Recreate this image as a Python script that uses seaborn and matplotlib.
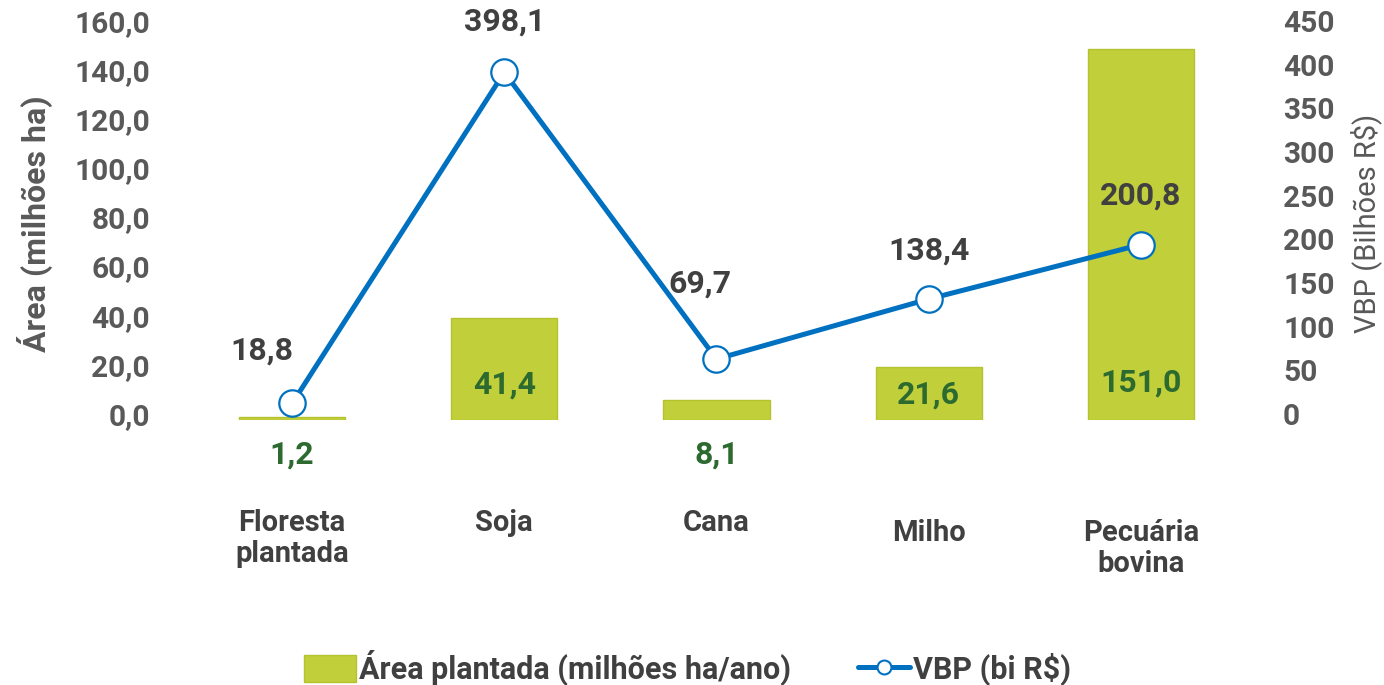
import numpy as np
import pandas as pd
import seaborn as sns
import matplotlib.pyplot as plt
import matplotlib.transforms as mtrans
from matplotlib.patches import Patch
from matplotlib.lines import Line2D

sns.set_style('white')
plt.rcParams['font.family'] = ['Roboto', 'DejaVu Sans']

# data
categories = ['Floresta\nplantada', 'Soja', 'Cana', 'Milho', 'Pecuária\nbovina']
area = [1.2, 41.4, 8.1, 21.6, 151.0]
vbp = [18.8, 398.1, 69.7, 138.4, 200.8]
left_ticks = [0, 20, 40, 60, 80, 100, 120, 140, 160]
right_ticks = [0, 50, 100, 150, 200, 250, 300, 350, 400, 450]

bar_color = '#c0cf3a'
line_color = '#0070c0'
grey = '#595959'
dark = '#404040'
green_txt = '#2d6a2f'

df = pd.DataFrame({'cat': categories, 'area': area, 'vbp': vbp})

fig = plt.figure(figsize=(13.84, 6.85), dpi=100)
ax = fig.add_axes([0.1344, 0.387, 0.7666, 0.5736])

sns.barplot(data=df, x='cat', y='area', color=bar_color, width=0.5,
            saturation=1, edgecolor='#b3c22e', linewidth=1, ax=ax)
ax.set_ylim(0, 160)
ax.set_xlim(-0.5, 4.5)
ax.set_yticks(left_ticks)
ax.set_yticklabels([f'{v:.1f}'.replace('.', ',') for v in left_ticks])
ax.set_xticks([])
ax.set_xlabel('')
ax.set_ylabel('Área (milhões ha)', fontsize=23, fontweight='bold', color=grey)
ax.yaxis.set_label_coords(-0.125, 0.5)
ax.tick_params(axis='y', length=0, pad=26, labelsize=21.5, labelcolor=grey)

ax2 = ax.twinx()
sns.lineplot(x=np.arange(len(vbp)), y=vbp, ax=ax2, color=line_color,
             linewidth=3.6, marker='o', markersize=19, markerfacecolor='white',
             markeredgecolor=line_color, markeredgewidth=1.6, zorder=5)
ax2.set_ylim(0, 450)
ax2.set_yticks(right_ticks)
ax2.set_yticklabels([str(v) for v in right_ticks])
ax2.set_ylabel('VBP (Bilhões R$)', fontsize=21, color=grey)
ax2.yaxis.set_label_coords(1.097, 0.5)
ax2.tick_params(axis='y', length=0, pad=26, labelsize=21.5, labelcolor=grey)

# tick labels sit a little higher than the ticks in the reference
shift = mtrans.ScaledTranslation(0, 6 / 100, fig.dpi_scale_trans)
for a in (ax, ax2):
    for t in a.get_yticklabels():
        t.set_fontweight('bold')
        t.set_transform(t.get_transform() + shift)
    for s in a.spines.values():
        s.set_visible(False)

# bar value labels
bar_off = [-35, 35, -35, 25, 37]
for i, v in enumerate(area):
    ax.annotate(f'{v:.1f}'.replace('.', ','), xy=(i, 0), xytext=(0, bar_off[i]),
                textcoords='offset pixels', ha='center', va='center',
                fontsize=23, fontweight='bold', color=green_txt)

# line value labels
line_off = [(-30, 53), (0, 51), (-17, 75), (0, 48), (0, 49)]
for i, v in enumerate(vbp):
    ax2.annotate(f'{v:.1f}'.replace('.', ','), xy=(i, v), xytext=line_off[i],
                 textcoords='offset pixels', ha='center', va='center',
                 fontsize=23, fontweight='bold', color=dark, zorder=6)

# category labels
cat_off = [-89, -89, -89, -99, -99]
for i, c in enumerate(categories):
    ax.annotate(c, xy=(i, 0), xycoords=('data', 'axes fraction'),
                xytext=(0, cat_off[i]), textcoords='offset pixels',
                ha='center', va='top', fontsize=21, fontweight='bold',
                color=dark, linespacing=1.12)

handles = [Patch(facecolor=bar_color, edgecolor='#b3c22e'),
           Line2D([0], [0], color=line_color, linewidth=3.6, marker='o',
                  markersize=10, markerfacecolor='white',
                  markeredgecolor=line_color, markeredgewidth=1.5)]
leg = fig.legend(handles, ['Área plantada (milhões ha/ano)', 'VBP (bi R$)'],
                 loc='center', bbox_to_anchor=(0.497, 0.025), ncol=2,
                 frameon=False, prop={'size': 22, 'weight': 'bold'},
                 handlelength=1.7, handleheight=1.0, handletextpad=0.1,
                 columnspacing=2.2)
for t in leg.get_texts():
    t.set_color(dark)

fig.savefig('out.png', dpi=100)
